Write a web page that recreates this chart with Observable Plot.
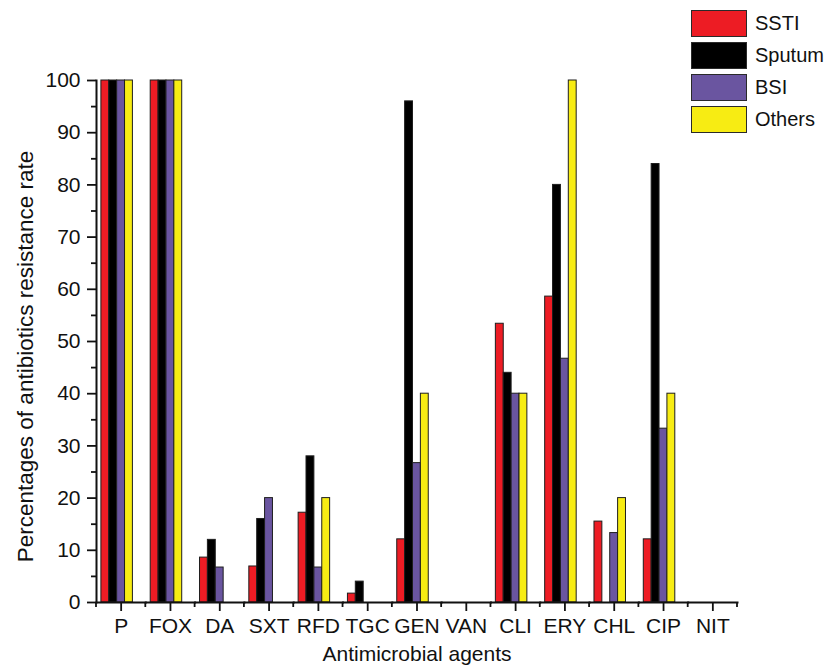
<!DOCTYPE html>
<html>
<head>
<meta charset="utf-8">
<script src="https://cdn.jsdelivr.net/npm/d3@7"></script>
<script src="https://cdn.jsdelivr.net/npm/@observablehq/plot@0.6"></script>
<style>
  body { margin: 0; background: #fff; font-family: "Liberation Sans", Arial, sans-serif; }
  #wrap { position: relative; width: 830px; height: 667px; }
  #legend { position: absolute; left: 691px; top: 10px; }
  .item { display: flex; align-items: center; height: 27px; margin-bottom: 5px; }
  .sw { box-sizing: border-box; width: 56px; height: 27px; border: 1.5px solid #2a2a2a; margin-right: 8px; }
  .lab { font-size: 20px; color: #111; }
</style>
</head>
<body>
<div id="wrap"><div id="legend"></div></div>
<script>
const categories = ["P", "FOX", "DA", "SXT", "RFD", "TGC", "GEN", "VAN", "CLI", "ERY", "CHL", "CIP", "NIT"];
const series = ["SSTI", "Sputum", "BSI", "Others"];
const colors = ["#ED1C24", "#000000", "#6A55A0", "#F7EC13"];
const SSTI   = [100, 100, 8.6, 6.9, 17.2, 1.7, 12.1, 0, 53.4, 58.6, 15.5, 12.1, 0];
const Sputum = [100, 100, 12, 16, 28, 4, 96, 0, 44, 80, 0, 84, 0];
const BSI    = [100, 100, 6.7, 20, 6.7, 0, 26.7, 0, 40, 46.7, 13.3, 33.3, 0];
const Others = [100, 100, 0, 0, 20, 0, 40, 0, 40, 100, 20, 40, 0];
const yMajorTicks = [0, 10, 20, 30, 40, 50, 60, 70, 80, 90, 100];
const yMinorTicks = [5, 15, 25, 35, 45, 55, 65, 75, 85, 95];
const xLabel = "Antimicrobial agents";
const yLabel = "Percentages of antibiotics resistance rate";

const seriesArrays = [SSTI, Sputum, BSI, Others];
const allData = categories.flatMap((c, i) =>
  series.map((s, k) => ({cat: c, series: s, value: seriesArrays[k][i]}))
);
const data = allData.filter(d => d.value > 0);

const chart = Plot.plot({
  width: 830,
  height: 667,
  marginLeft: 96,
  marginRight: 93,
  marginTop: 80,
  marginBottom: 65,
  style: {fontFamily: "'Liberation Sans', Arial, sans-serif", fontSize: "21px", color: "#111", background: "white", overflow: "visible"},
  fx: {domain: categories, padding: 0, round: false, axis: null},
  x: {domain: series, paddingInner: 0, paddingOuter: 1.13, round: false, axis: null},
  y: {domain: [0, 100], axis: null},
  color: {domain: series, range: colors},
  marks: [
    // invisible marks so that every category facet (even all-zero ones) exists
    Plot.dot(allData, {fx: "cat", x: "series", y: "value", r: 0}),
    Plot.barY(data, {fx: "cat", x: "series", y: "value", fill: "series", stroke: "#1e1e1e", strokeWidth: 1, dx: -4}),
    Plot.frame({anchor: "bottom", strokeWidth: 2}),
    Plot.frame({anchor: "left", strokeWidth: 2, facetAnchor: "left"}),
    Plot.axisY({ticks: yMajorTicks, tickSize: 9, tickPadding: 7, strokeWidth: 1.8, label: null}),
    Plot.axisY({ticks: yMinorTicks, tickSize: 5, strokeWidth: 1.8, tickFormat: () => "", label: null}),
    Plot.text([yLabel], {frameAnchor: "left", textAnchor: "middle", rotate: -90, dx: -71, dy: 15, fontSize: 22.5, facetAnchor: "left"}),
    Plot.axisFx({anchor: "bottom", tickSize: 9, tickPadding: 7, strokeWidth: 1.8, label: xLabel, labelAnchor: "center", labelOffset: 58, labelArrow: "none"})
  ]
});

document.getElementById("wrap").appendChild(chart);

// minor x ticks at category boundaries, from the fx scale
const fxs = chart.scale("fx");
const bounds = categories.map(c => fxs.apply(c)).concat([fxs.apply(categories[categories.length - 1]) + fxs.bandwidth]);
const yBottom = 667 - 65;
d3.select(chart).append("g")
  .attr("stroke", "#111").attr("stroke-width", 1.8)
  .selectAll("line").data(bounds).join("line")
  .attr("x1", d => d).attr("x2", d => d)
  .attr("y1", yBottom).attr("y2", yBottom + 5);

// legend
const legend = d3.select("#legend");
series.forEach((s, k) => {
  const it = legend.append("div").attr("class", "item");
  it.append("div").attr("class", "sw").style("background", colors[k]);
  it.append("span").attr("class", "lab").text(s);
});
</script>
</body>
</html>
